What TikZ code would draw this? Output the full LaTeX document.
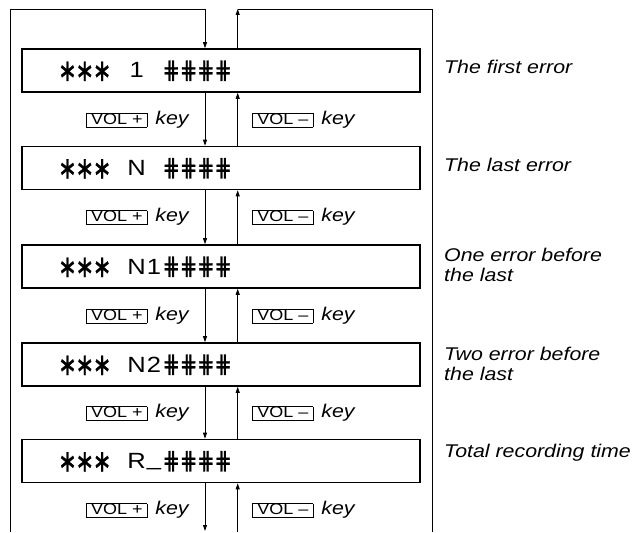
\documentclass[tikz,border=0pt]{standalone}
\usepackage{fontspec}
\usepackage{graphicx}
\setmainfont[FakeStretch=1.16]{Liberation Sans}
\newfontfamily\djv{DejaVu Sans}
\newfontfamily\djvb[FakeBold=1.2]{DejaVu Sans}
\usetikzlibrary{arrows.meta}
\newcommand\lc[1]{\makebox[17.3pt][c]{#1}}
\newcommand\AS{\raisebox{-3pt}{\scalebox{1.0}[1.4]{\djvb ∗}}}
\newcommand\HS{\raisebox{-0.5pt}{\scalebox{0.95}[1.12]{\djvb ⋕}}}
\newcommand\lcdtext[2]{\hspace*{36.85pt}\lc{\AS}\lc{\AS}\lc{\AS}\lc{}#1#2\lc{\HS}\lc{\HS}\lc{\HS}\lc{\HS}}
\newcommand\volbox[1]{{\setlength\fboxsep{0pt}\setlength\fboxrule{0.6pt}\fbox{\makebox[60pt]{\rule[-2.5pt]{0pt}{13pt}\fontsize{15.5}{15.5}\selectfont #1}}}}
\tikzset{
  lcdbox/.style={draw, line width=1.6pt, minimum width=398pt, text width=398pt, align=left, inner sep=0pt, text height=29pt, text depth=14pt, font=\fontsize{22}{22}\selectfont},
  keylab/.style={anchor=west, inner sep=0pt, font=\fontsize{18.4}{20}\selectfont},
  rlab/.style={anchor=base west, inner sep=0pt, align=left, font=\itshape\fontsize{18.4}{20}\selectfont},
  conn/.style={line width=0.8pt},
  arr/.style={line width=0.8pt, -{Triangle[length=6pt,width=4pt]}},
}
\begin{document}
\begin{tikzpicture}[x=1pt,y=-1pt]
\useasboundingbox (0,0) rectangle (636,532);
\node[lcdbox] (b1) at (221,70.5) {\lcdtext{\lc{1}}{\lc{}}};
\node[lcdbox] (b2) at (221,168) {\lcdtext{\lc{N}}{\lc{}}};
\node[lcdbox] (b3) at (221,266.5) {\lcdtext{\lc{N}}{\lc{1}}};
\node[lcdbox] (b4) at (221,364.5) {\lcdtext{\lc{N}}{\lc{2}}};
\node[lcdbox] (b5) at (221,461) {\lcdtext{\lc{R}}{\lc{\raisebox{3pt}{\_}}}};
\coordinate (dx) at (205,0);
\coordinate (ux) at (237.7,0);
\coordinate (topL) at (10,9);
\coordinate (topR) at (432,9);
\coordinate (botL) at (10,532);
\coordinate (botR) at (432,532);
\coordinate (dtop) at (205,9);
\coordinate (utop) at (237.7,9);
\coordinate (dbot) at (205,531);
\coordinate (ubot) at (237.7,532);
\draw[conn] (botL) -- (topL) -- (dtop);
\draw[arr] (dtop) -- (b1.north -| dx);
\draw[arr] (b1.north -| ux) -- (utop);
\draw[conn] (utop) -- (topR) -- (botR);
\foreach \a/\b in {b1/b2,b2/b3,b3/b4,b4/b5}{
  \draw[arr] (\a.south -| dx) -- (\b.north -| dx);
  \draw[arr] (\b.north -| ux) -- (\a.south -| ux);
}
\draw[arr] (b5.south -| dx) -- (dbot);
\draw[arr] (ubot) -- (b5.south -| ux);
\foreach \n/\y in {1/119.5,2/217,3/315.5,4/413,5/510}{
  \node[keylab] (kp\n) at (86,\y) {\volbox{VOL +}\hspace{8pt}\textit{key}};
  \node[keylab] (km\n) at (252,\y) {\volbox{VOL –}\hspace{8pt}\textit{key}};
}
\node[rlab] (l1) at (444,74) {The first error};
\node[rlab] (l2) at (444,171.5) {The last error};
\node[rlab] (l3) at (444,281) {One error before\\the last};
\node[rlab] (l4) at (444,380) {Two error before\\the last};
\node[rlab] (l5) at (444,457) {Total recording time};
\end{tikzpicture}
\end{document}
